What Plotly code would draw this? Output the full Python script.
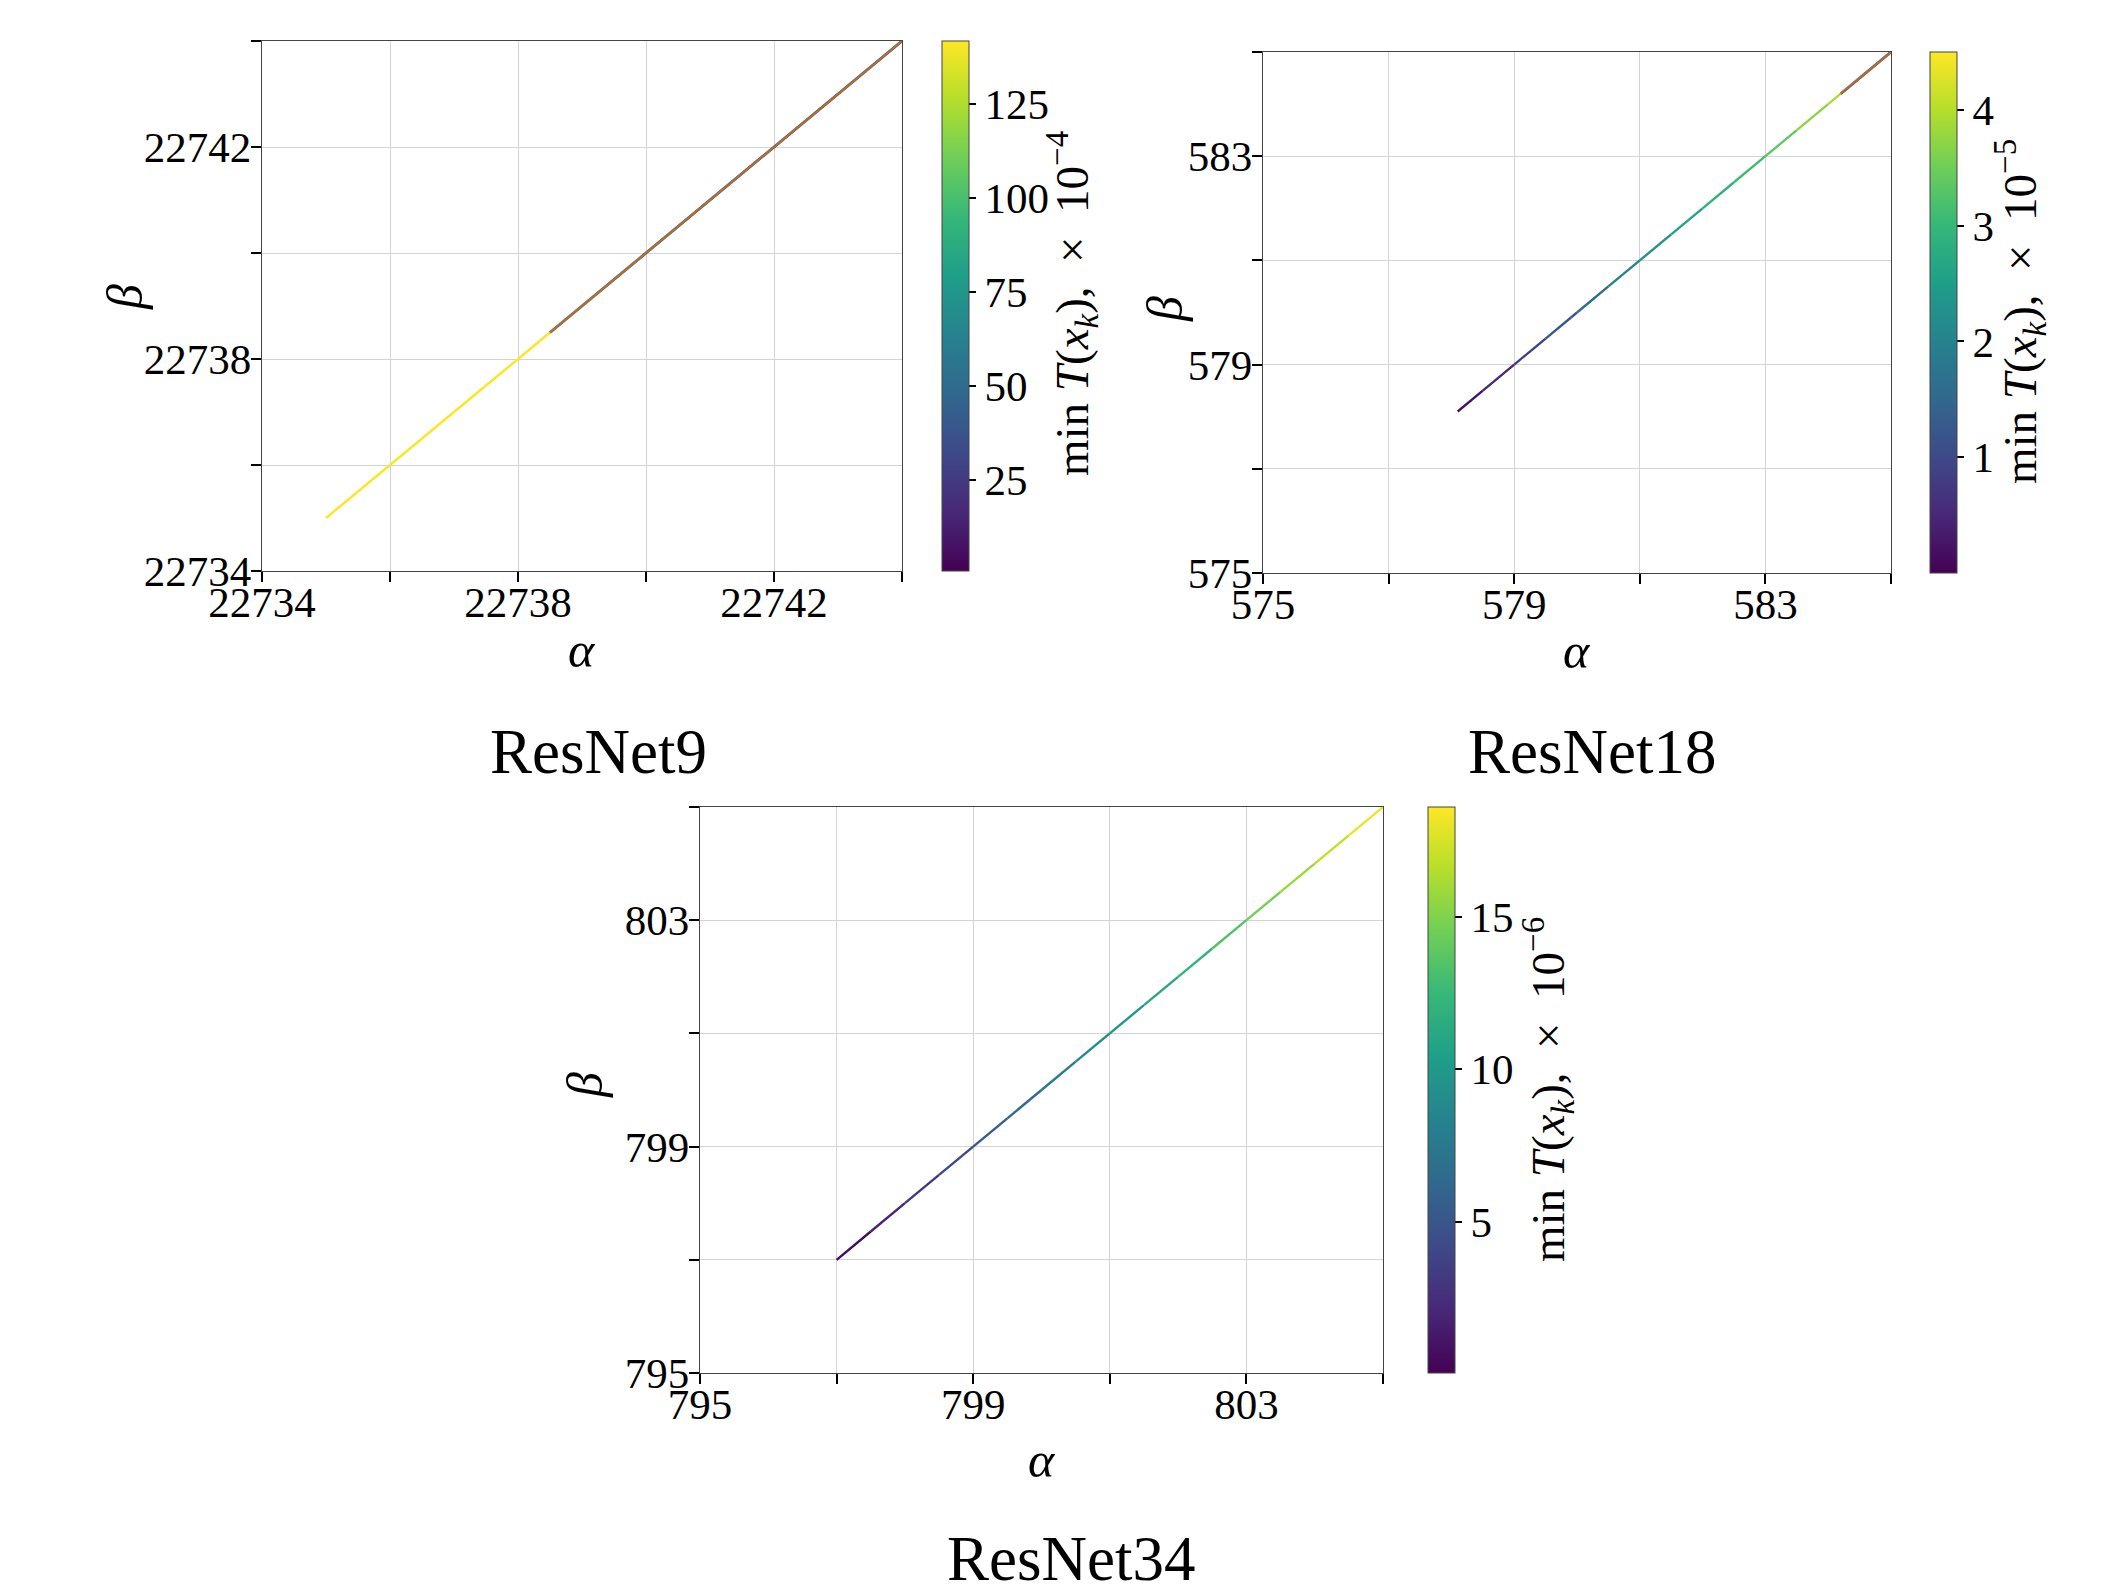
import plotly.graph_objects as go
from plotly.colors import sample_colorscale

W, H = 2119, 1591          # target picture size
OFF = 8                    # page body margin of the browser
FW, FH = W - 2 * OFF, H - 2 * OFF

# ---------------- data ----------------
# ResNet9 : smooth part (alpha = beta) and oscillating part
r9_alpha = [22735.0, 22735.5, 22736.0, 22736.5, 22737.0, 22737.5, 22738.0, 22738.5]
r9_beta = [22735.0, 22735.5, 22736.0, 22736.5, 22737.0, 22737.5, 22738.0, 22738.5]
r9_value = [141.0, 141.1, 141.2, 141.3, 141.4, 141.5, 141.6, 141.7]
r9_osc_alpha = [22738.5, 22744.0]
r9_osc_beta = [22738.5, 22744.0]
r9_osc_value = [0.8, 141.8]
r9_crange = [0.8, 141.8]
r9_range = [22734, 22744]
r9_ticks = [22734, 22738, 22742]
r9_ticklabels = ["22734", "22738", "22742"]
r9_minor_ticks = [22736, 22740, 22744]
r9_cbar_ticks = [25, 50, 75, 100, 125]

# ResNet18
r18_alpha = [578.1, 578.5, 579.0, 579.5, 580.0, 580.5, 581.0, 581.5, 582.0, 582.5, 583.0, 583.5, 584.0, 584.2]
r18_beta = [578.1, 578.5, 579.0, 579.5, 580.0, 580.5, 581.0, 581.5, 582.0, 582.5, 583.0, 583.5, 584.0, 584.2]
r18_value = [0.1, 0.35, 0.7, 1.05, 1.4, 1.8, 2.15, 2.45, 2.75, 3.0, 3.2, 3.55, 3.9, 4.0]
r18_osc_alpha = [584.2, 585.0]
r18_osc_beta = [584.2, 585.0]
r18_osc_value = [0.0, 4.5]
r18_crange = [0.0, 4.5]
r18_range = [575, 585]
r18_ticks = [575, 579, 583]
r18_ticklabels = ["575", "579", "583"]
r18_minor_ticks = [577, 581, 585]
r18_cbar_ticks = [1, 2, 3, 4]

# ResNet34
r34_alpha = [797.0, 797.5, 798.0, 798.5, 799.0, 799.5, 800.0, 800.5, 801.0, 801.5, 802.0, 802.5, 803.0, 803.5, 804.0, 804.5, 805.0]
r34_beta = [797.0, 797.5, 798.0, 798.5, 799.0, 799.5, 800.0, 800.5, 801.0, 801.5, 802.0, 802.5, 803.0, 803.5, 804.0, 804.5, 805.0]
r34_value = [0.1, 1.3, 2.5, 3.6, 4.8, 5.9, 7.0, 8.2, 9.4, 10.5, 11.7, 12.8, 14.0, 15.2, 16.3, 17.5, 18.6]
r34_osc_alpha = []
r34_osc_beta = []
r34_osc_value = []
r34_crange = [0.05, 18.6]
r34_range = [795, 805]
r34_ticks = [795, 799, 803]
r34_ticklabels = ["795", "799", "803"]
r34_minor_ticks = [797, 801, 805]
r34_cbar_ticks = [5, 10, 15]

titles = ["ResNet9", "ResNet18", "ResNet34"]
exponents = ["−4", "−5", "−6"]

# ---------------- layout helpers (positions in picture pixels) ----------------
def px(x):
    return (x - OFF) / FW

def py(y):
    return 1 - (y - OFF) / FH

FONT = "Liberation Serif"
TICK_SIZE = 43
GRID = "#d4d4d4"

panels = [
    dict(alpha=r9_alpha, beta=r9_beta, value=r9_value,
         oa=r9_osc_alpha, ob=r9_osc_beta, ov=r9_osc_value,
         crange=r9_crange, rng=r9_range, ticks=r9_ticks, labels=r9_ticklabels,
         minor=r9_minor_ticks, cticks=r9_cbar_ticks,
         box=(262, 902, 41, 571), cbx=942, title_xy=(598, 752),
         alab=(582, 650), blab=(125, 297), ctitle=(1072, 304)),
    dict(alpha=r18_alpha, beta=r18_beta, value=r18_value,
         oa=r18_osc_alpha, ob=r18_osc_beta, ov=r18_osc_value,
         crange=r18_crange, rng=r18_range, ticks=r18_ticks, labels=r18_ticklabels,
         minor=r18_minor_ticks, cticks=r18_cbar_ticks,
         box=(1263, 1891, 52, 573), cbx=1930, title_xy=(1592, 752),
         alab=(1577, 651), blab=(1165, 309), ctitle=(2020, 312)),
    dict(alpha=r34_alpha, beta=r34_beta, value=r34_value,
         oa=r34_osc_alpha, ob=r34_osc_beta, ov=r34_osc_value,
         crange=r34_crange, rng=r34_range, ticks=r34_ticks, labels=r34_ticklabels,
         minor=r34_minor_ticks, cticks=r34_cbar_ticks,
         box=(700, 1383, 807, 1373), cbx=1428, title_xy=(1071, 1559),
         alab=(1042, 1460), blab=(585, 1085), ctitle=(1548, 1090)),
]

fig = go.Figure()
annotations = []
LW = 2.4

def vcolor(v, cr):
    t = (v - cr[0]) / (cr[1] - cr[0])
    t = min(max(t, 0.0), 1.0)
    return sample_colorscale("Viridis", [t])[0]

for i, p in enumerate(panels):
    n = "" if i == 0 else str(i + 1)
    xa, ya = "x" + n, "y" + n
    ca = "coloraxis" + n
    cr = p["crange"]
    a, b, v = p["alpha"], p["beta"], p["value"]
    # gradient line: one segment per pair of samples
    for k in range(len(a) - 1):
        fig.add_trace(go.Scatter(
            x=[a[k], a[k + 1]], y=[b[k], b[k + 1]], mode="lines",
            line=dict(color=vcolor((v[k] + v[k + 1]) / 2, cr), width=LW),
            xaxis=xa, yaxis=ya, showlegend=False, hoverinfo="skip"))
    # oscillating part: low and high values interleaved -> blended look
    if p["oa"]:
        lo, hi = p["ov"]
        fig.add_trace(go.Scatter(
            x=p["oa"], y=p["ob"], mode="lines",
            line=dict(color=vcolor(lo, cr), width=LW + 0.3),
            xaxis=xa, yaxis=ya, showlegend=False, hoverinfo="skip"))
        fig.add_trace(go.Scatter(
            x=p["oa"], y=p["ob"], mode="lines", opacity=0.5,
            line=dict(color=vcolor(hi, cr), width=LW),
            xaxis=xa, yaxis=ya, showlegend=False, hoverinfo="skip"))
    # invisible markers carrying the colour axis (for the colour bar)
    fig.add_trace(go.Scatter(
        x=a, y=b, mode="markers",
        marker=dict(size=1, opacity=0, color=v, coloraxis=ca),
        xaxis=xa, yaxis=ya, showlegend=False, hoverinfo="skip"))

    x0, x1, y0, y1 = p["box"]
    axcommon = dict(
        tickmode="array", tickvals=p["ticks"], ticktext=p["labels"],
        range=p["rng"],
        ticks="outside", ticklen=10, tickwidth=1.5, tickcolor="black",
        showgrid=True, gridcolor=GRID, gridwidth=1,
        minor=dict(tickmode="array", tickvals=p["minor"], ticks="outside", ticklen=10,
                   tickwidth=1.5, tickcolor="black", showgrid=True, gridcolor=GRID, gridwidth=1),
        showline=True, mirror=True, linecolor="#444444", linewidth=1.2,
        zeroline=False, automargin=False,
        tickfont=dict(family=FONT, size=TICK_SIZE, color="black"),
    )
    fig.update_layout(**{
        "xaxis" + n: dict(axcommon, domain=[px(x0), px(x1)], anchor=ya, ticklabelstandoff=-17),
        "yaxis" + n: dict(axcommon, domain=[py(y1), py(y0)], anchor=xa, ticklabelstandoff=-9),
        ca: dict(
            colorscale="Viridis", cmin=cr[0], cmax=cr[1],
            colorbar=dict(
                x=px(p["cbx"]), xanchor="left", xpad=0,
                y=py((y0 + y1) / 2), yanchor="middle", ypad=0,
                len=y1 - y0, lenmode="pixels",
                thickness=27, thicknessmode="pixels",
                outlinewidth=1, outlinecolor="#444444",
                ticks="outside", ticklen=7, tickwidth=1.5, tickcolor="black",
                tickmode="array", tickvals=p["cticks"],
                tickfont=dict(family=FONT, size=TICK_SIZE, color="black"),
            ),
        ),
    })

    tx, ty = p["title_xy"]
    annotations.append(dict(text=titles[i], x=px(tx), y=py(ty), xref="paper", yref="paper",
                            showarrow=False, xanchor="center", yanchor="middle",
                            font=dict(family=FONT, size=63, color="black")))
    ax_, ay_ = p["alab"]
    annotations.append(dict(text="<i>α</i>", x=px(ax_), y=py(ay_), xref="paper", yref="paper",
                            showarrow=False, xanchor="center", yanchor="middle",
                            font=dict(family=FONT, size=50, color="black")))
    bx_, by_ = p["blab"]
    annotations.append(dict(text="<i>β</i>", x=px(bx_), y=py(by_), xref="paper", yref="paper",
                            showarrow=False, xanchor="center", yanchor="middle", textangle=-90,
                            font=dict(family=FONT, size=50, color="black")))
    cx_, cy_ = p["ctitle"]
    annotations.append(dict(
        text="min <i>T</i>(<i>x<sub>k</sub></i>),  ×  10<sup>" + exponents[i] + "</sup>",
        x=px(cx_), y=py(cy_), xref="paper", yref="paper",
        showarrow=False, xanchor="center", yanchor="middle", textangle=-90,
        font=dict(family=FONT, size=47, color="black")))

fig.update_layout(
    width=FW, height=FH,
    margin=dict(l=0, r=0, t=0, b=0, autoexpand=False),
    paper_bgcolor="white", plot_bgcolor="white",
    annotations=annotations,
    showlegend=False,
)

fig.write_html("out.html")
